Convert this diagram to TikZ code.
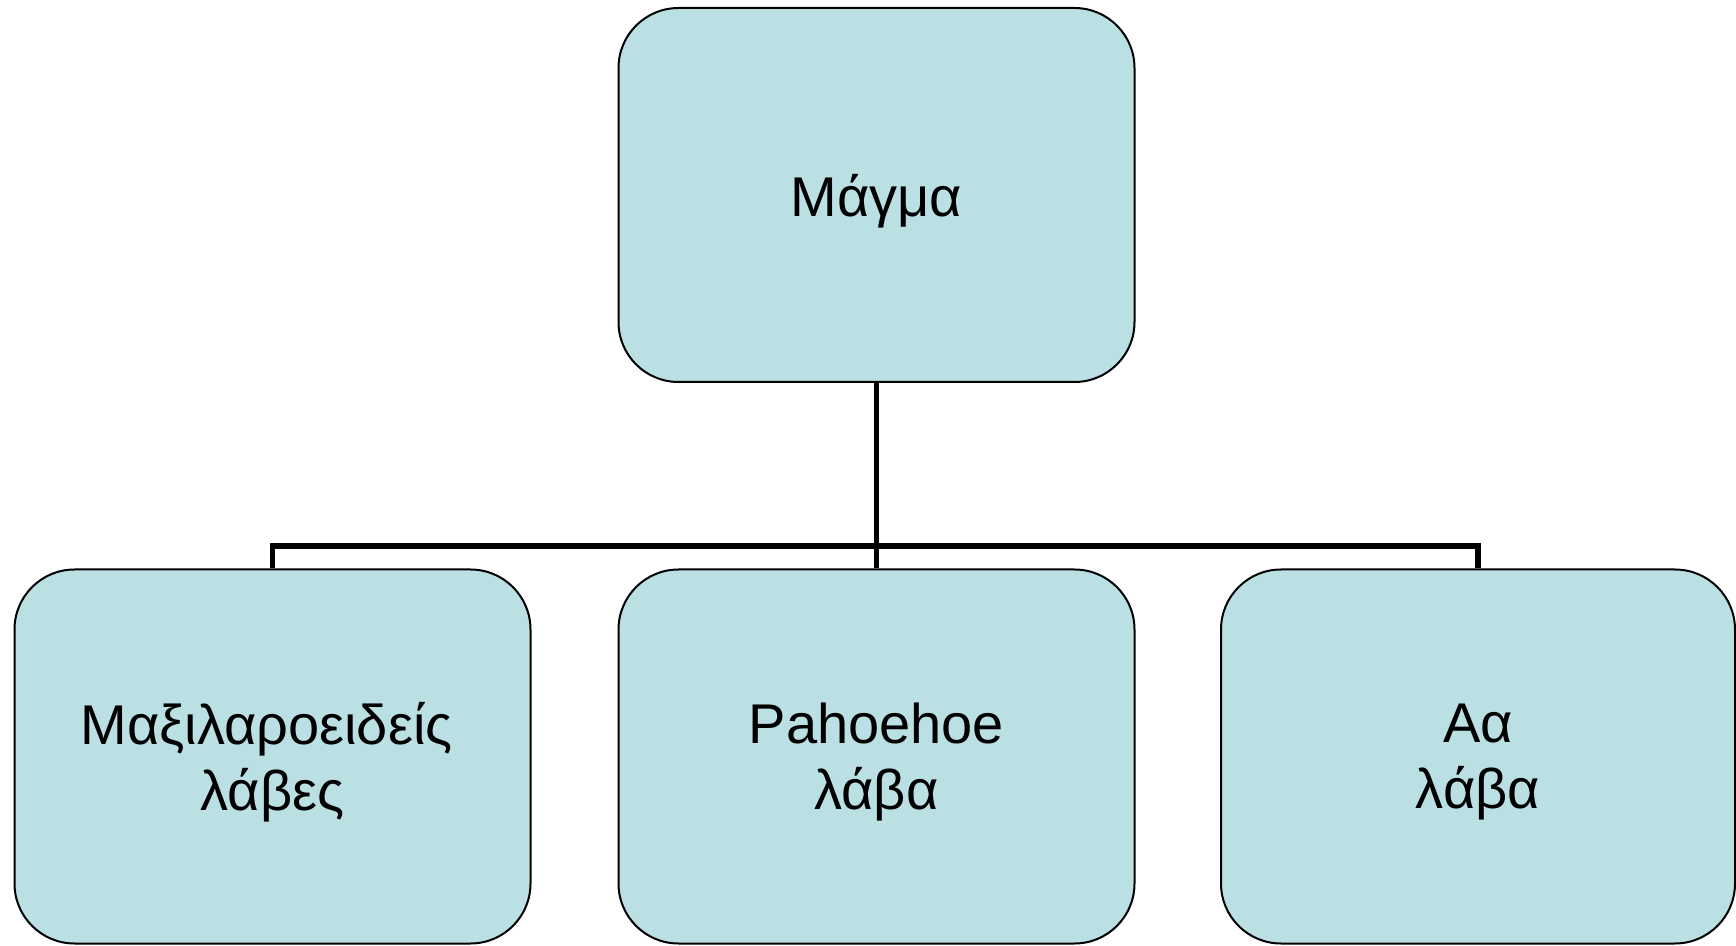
\documentclass[tikz,border=0pt]{standalone}
\usepackage{fontspec}
\setmainfont{Liberation Sans}
\definecolor{boxfill}{RGB}{186,224,227}
\begin{document}
\begin{tikzpicture}[x=0.5pt,y=-0.5pt,
  box/.style={draw=black, line width=1pt, fill=boxfill, rounded corners=30pt,
    minimum width=258pt, minimum height=187pt, inner sep=0pt,
    label={[align=center, inner sep=0pt, yshift=-3pt,
      font=\fontsize{28}{33}\selectfont]center:#1}},
  conn/.style={draw=black, line width=2.6pt}]
\useasboundingbox (0,0) rectangle (1736,946);
\node[box={Μάγμα}] (top) at (876.5,195) {};
\node[box={\hspace*{-6pt}Μαξιλαροειδείς\\λάβες}] (left) at (272.5,756.5) {};
\node[box={Pahoehoe\\λάβα}] (mid) at (876.5,756.5) {};
\node[box={Αα\\λάβα}, minimum width=257pt] (right) at (1478,756.5) {};
\coordinate (bus) at (876.5,546);
\draw[conn] (top.south) -- (mid.north);
\draw[conn] (left.north) -- (left.north |- bus) -- (right.north |- bus) -- (right.north);
\end{tikzpicture}
\end{document}
